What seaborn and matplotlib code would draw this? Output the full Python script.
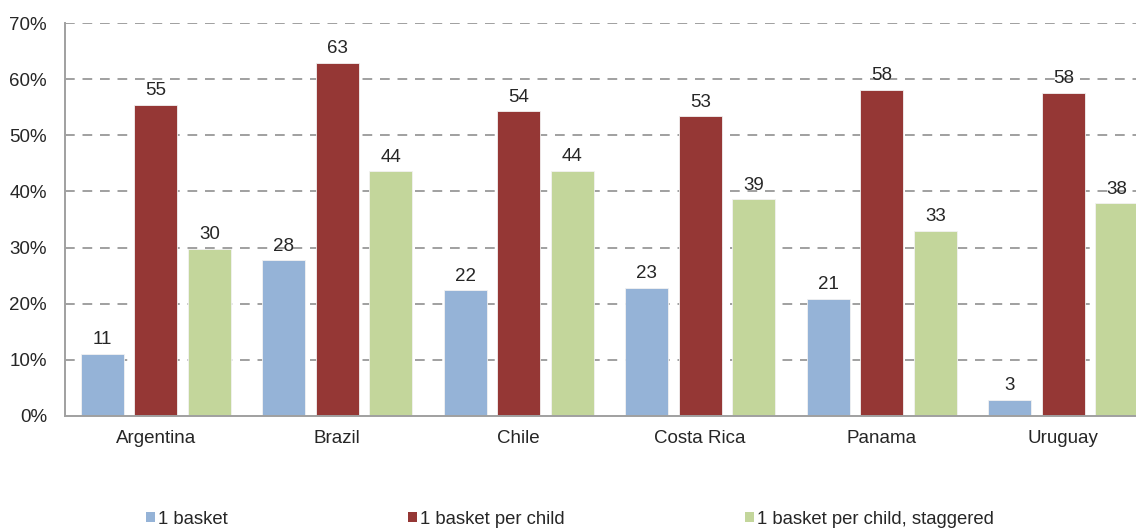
import matplotlib
matplotlib.use("Agg")
import matplotlib.pyplot as plt
import seaborn as sns
import pandas as pd
from matplotlib.ticker import FuncFormatter
from matplotlib.patches import Patch

countries = ["Argentina", "Brazil", "Chile", "Costa Rica", "Panama", "Uruguay"]
series_names = ["1 basket", "1 basket per child", "1 basket per child, staggered"]
one_basket = [11.1, 27.7, 22.4, 22.8, 20.9, 2.9]
per_child = [55.4, 62.9, 54.3, 53.4, 58.1, 57.6]
per_child_staggered = [29.8, 43.6, 43.7, 38.6, 33.0, 37.9]
y_ticks = [0, 10, 20, 30, 40, 50, 60, 70]

colors = ["#95B3D7", "#953735", "#C3D69B"]

rows = []
for name, vals in zip(series_names, [one_basket, per_child, per_child_staggered]):
    for c, v in zip(countries, vals):
        rows.append({"country": c, "series": name, "value": v})
df = pd.DataFrame(rows)

sns.set_theme(style="white")
plt.rcParams["font.family"] = ["Liberation Sans", "DejaVu Sans"]

fig = plt.figure(figsize=(11.36, 5.28), dpi=100)
W, H = 1136, 528
ax = fig.add_axes([65 / W, (H - 416) / H, 1089 / W, (416 - 23) / H])

sns.barplot(data=df, x="country", y="value", hue="series", order=countries,
            hue_order=series_names, palette=colors, width=0.885, gap=0.2,
            saturation=1, ax=ax, legend=False, errorbar=None,
            linewidth=0.6, edgecolor="#F2F2F2")

for cont in ax.containers:
    ax.bar_label(cont, labels=[f"{round(b.get_height()):d}" for b in cont],
                 padding=4, fontsize=13.5, color="#262626")

ax.set_xlim(-0.5, 5.5)
ax.set_ylim(0, 70)
ax.set_yticks(y_ticks)
ax.yaxis.set_major_formatter(FuncFormatter(lambda v, p: f"{int(v)}%"))
ax.set_xlabel("")
ax.set_ylabel("")
ax.tick_params(axis="both", labelsize=13.5, colors="#262626", length=0)
ax.tick_params(axis="y", pad=13)
ax.tick_params(axis="x", pad=10)

for y in y_ticks[1:]:
    ax.axhline(y, color="#A0A0A0", linestyle=(0, (5, 4)), linewidth=1.4, zorder=0)
ax.set_axisbelow(True)

for side in ["top", "right"]:
    ax.spines[side].set_visible(False)
for side in ["left", "bottom"]:
    ax.spines[side].set_color("#A0A0A0")
    ax.spines[side].set_linewidth(1.4)

handles = [Patch(facecolor=c, edgecolor="none") for c in colors]
fig.legend(handles, series_names, loc="center left", bbox_to_anchor=(146 / W, (H - 519) / H),
           ncol=3, frameon=False, fontsize=13.3, handlelength=0.5, handleheight=0.5,
           handletextpad=0.15, columnspacing=9.75, borderpad=0, borderaxespad=0)

fig.savefig("out.png", dpi=100)
